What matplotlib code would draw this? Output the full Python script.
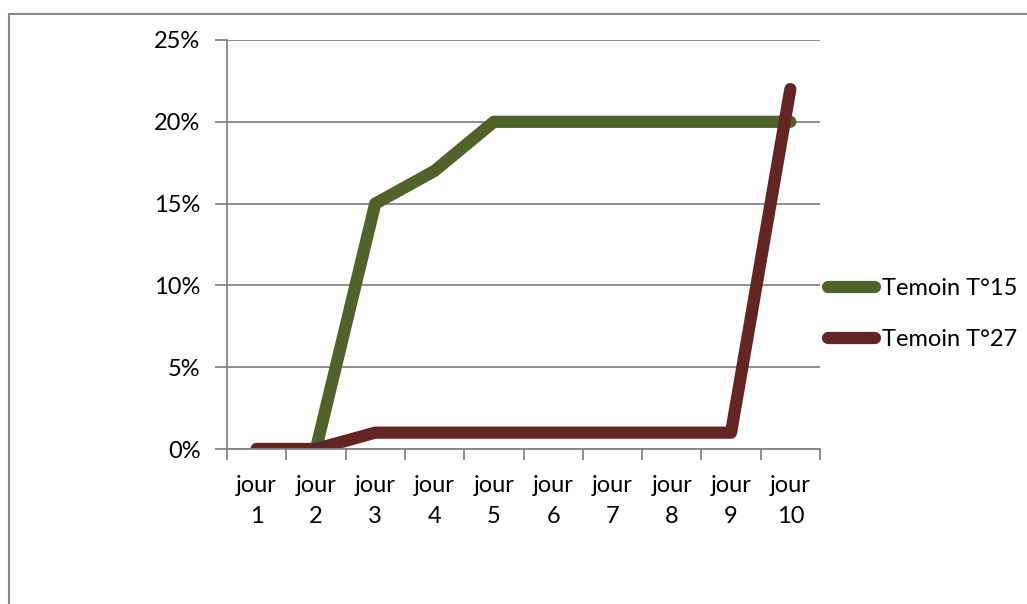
import matplotlib
matplotlib.use("Agg")
import matplotlib.pyplot as plt
from matplotlib.patches import Rectangle
from matplotlib.ticker import FuncFormatter, FixedLocator

plt.rcParams['font.family'] = ['Lato', 'DejaVu Sans']

days = ["jour\n1", "jour\n2", "jour\n3", "jour\n4", "jour\n5",
        "jour\n6", "jour\n7", "jour\n8", "jour\n9", "jour\n10"]
temoin_t15 = [0, 0, 15, 17, 20, 20, 20, 20, 20, 20]
temoin_t27 = [0, 0, 1, 1, 1, 1, 1, 1, 1, 22]
series_names = ["Temoin T°15", "Temoin T°27"]
series_colors = ["#4F6228", "#632523"]

FS = 17

fig = plt.figure(figsize=(10.27, 6.04), dpi=100)
ax = fig.add_axes([227 / 1027, 1 - 449 / 604, (820 - 227) / 1027, (449 - 40) / 604])

x = list(range(1, len(days) + 1))
for vals, name, col in zip([temoin_t15, temoin_t27], series_names, series_colors):
    ax.plot(x, vals, color=col, lw=8.8, solid_capstyle='round',
            solid_joinstyle='round', label=name)

ax.set_xlim(0.5, len(days) + 0.5)
ax.set_ylim(0, 25)
ax.set_yticks([0, 5, 10, 15, 20, 25])
ax.yaxis.set_major_formatter(FuncFormatter(lambda v, p: f"{int(v)}%"))
ax.yaxis.grid(True, color="#868686", lw=1.3)
ax.set_axisbelow(True)

ax.set_xticks(x)
ax.set_xticklabels(days, linespacing=1.6)
ax.xaxis.set_minor_locator(FixedLocator([i + 0.5 for i in range(0, len(days) + 1)]))
ax.tick_params(axis='x', which='major', length=0, pad=18.5, labelsize=FS)
ax.tick_params(axis='x', which='minor', length=8, width=1.3, color="#868686", direction='out')
ax.tick_params(axis='y', length=9, width=1.3, color="#868686", pad=10, labelsize=FS)

for s in ['top', 'right']:
    ax.spines[s].set_visible(False)
for s in ['left', 'bottom']:
    ax.spines[s].set_color("#868686")
    ax.spines[s].set_linewidth(1.3)

leg = ax.legend(loc='center left', bbox_to_anchor=(1.013, 0.330), frameon=False,
                fontsize=FS, handlelength=2.0, handletextpad=0.3, labelspacing=1.25,
                borderaxespad=0, borderpad=0)

fig.add_artist(Rectangle((8.5 / 1027, -0.1), 1.2, 1 - 14.5 / 604 + 0.1,
                         transform=fig.transFigure, fill=False,
                         edgecolor="#868686", lw=1.5))

fig.savefig("out.png", dpi=100)
